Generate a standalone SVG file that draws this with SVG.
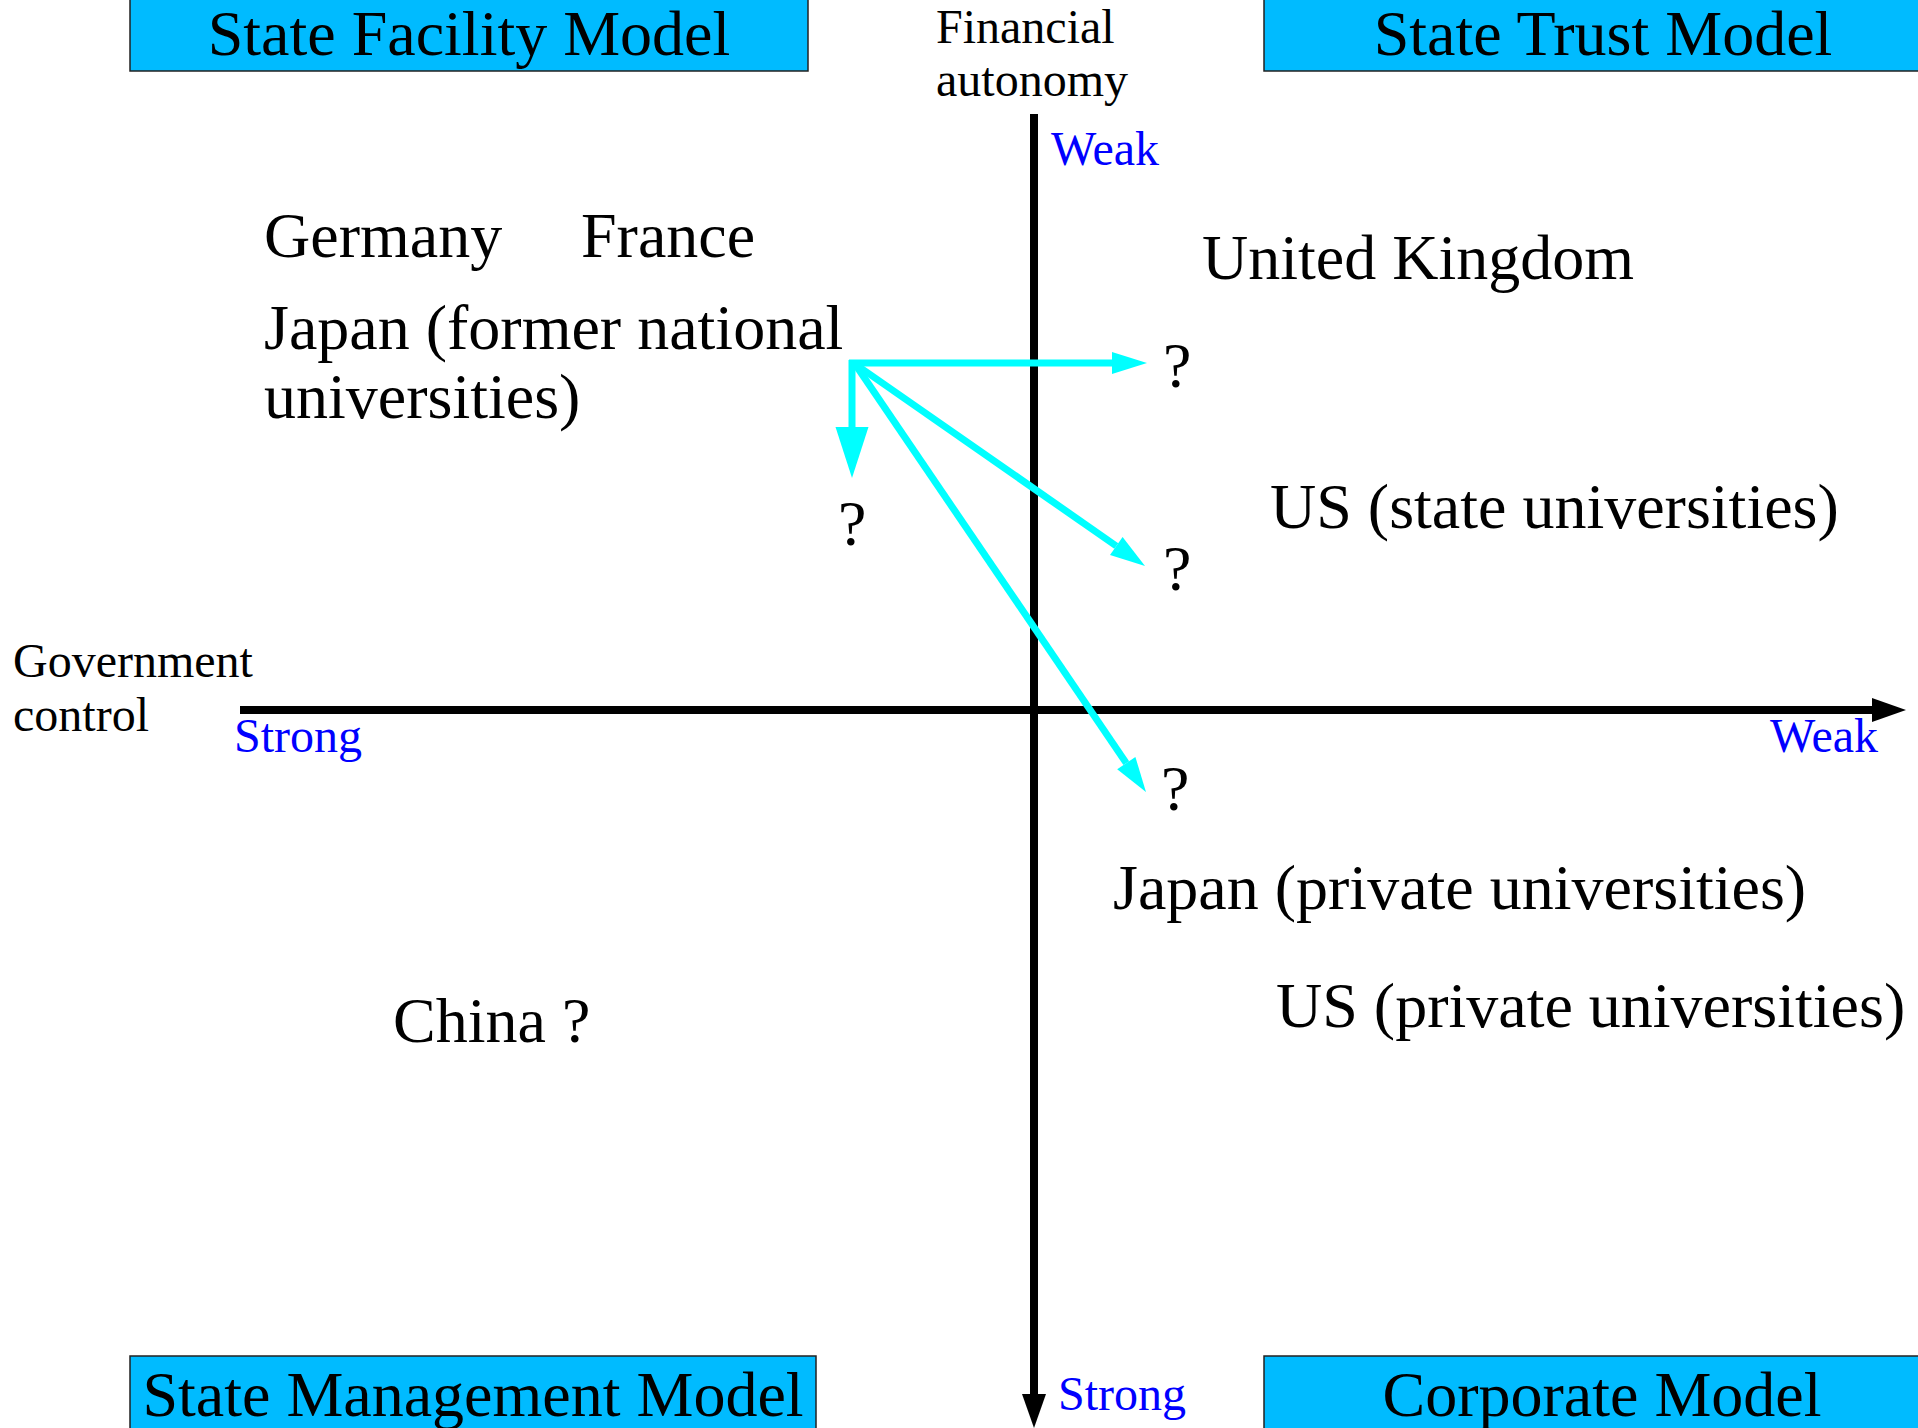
<svg xmlns="http://www.w3.org/2000/svg" width="1918" height="1428" viewBox="0 0 1918 1428">
<style>
  text { font-family: "Liberation Serif", "Times New Roman", serif; }
  .box { fill: #00BBFF; stroke: #222; stroke-width: 1.5; }
  .title { font-size: 64px; fill: #000; }
  .axis-name { font-size: 48px; fill: #000; }
  .scale { font-size: 48px; fill: #0000FF; }
  .country { font-size: 64px; fill: #000; }
  .q { font-size: 64px; fill: #000; }
  .axis { stroke: #000; stroke-width: 8; fill: none; }
  .cy { stroke: #00FFFF; stroke-width: 7; fill: none; }
</style>
<defs>
  <marker id="cyanHead" markerUnits="userSpaceOnUse" markerWidth="35" markerHeight="22" refX="0" refY="11" orient="auto" overflow="visible">
    <path d="M0,0 L35,11 L0,22 Z" fill="#00FFFF"/>
  </marker>
  <marker id="cyanHeadBig" markerUnits="userSpaceOnUse" markerWidth="51" markerHeight="33" refX="0" refY="16.5" orient="auto" overflow="visible">
    <path d="M0,0 L51,16.5 L0,33 Z" fill="#00FFFF"/>
  </marker>
  <marker id="blackHead" markerUnits="userSpaceOnUse" markerWidth="34" markerHeight="24" refX="0" refY="12" orient="auto" overflow="visible">
    <path d="M0,0 L34,12 L0,24 Z" fill="#000"/>
  </marker>
</defs>
<rect width="1918" height="1428" fill="#FFFFFF"/>

<g id="model-state-facility">
  <rect class="box" x="130" y="-2" width="678" height="73"/>
  <text class="title" x="469" y="55" text-anchor="middle">State Facility Model</text>
</g>
<g id="model-state-trust">
  <rect class="box" x="1264" y="-2" width="660" height="73"/>
  <text class="title" x="1603" y="55" text-anchor="middle">State Trust Model</text>
</g>
<g id="model-state-management">
  <rect class="box" x="130" y="1356" width="686" height="80"/>
  <text class="title" x="473" y="1416" text-anchor="middle">State Management Model</text>
</g>
<g id="model-corporate">
  <rect class="box" x="1264" y="1356" width="660" height="80"/>
  <text class="title" x="1602" y="1416" text-anchor="middle">Corporate Model</text>
</g>

<g id="axes">
  <line class="axis" x1="240" y1="710" x2="1872" y2="710" marker-end="url(#blackHead)"/>
  <line class="axis" x1="1034" y1="114" x2="1034" y2="1394" marker-end="url(#blackHead)"/>
</g>

<g id="axis-labels">
  <text class="axis-name" x="936" y="43">Financial</text>
  <text class="axis-name" x="936" y="96">autonomy</text>
  <text class="axis-name" x="13" y="677">Government</text>
  <text class="axis-name" x="13" y="731">control</text>
  <text class="scale" x="1051" y="165">Weak</text>
  <text class="scale" x="1058" y="1410">Strong</text>
  <text class="scale" x="234" y="752">Strong</text>
  <text class="scale" x="1770" y="752">Weak</text>
</g>

<g id="node-germany"><text class="country" x="264" y="257">Germany</text></g>
<g id="node-france"><text class="country" x="581" y="257">France</text></g>
<g id="node-japan-national">
  <text class="country" x="264" y="349">Japan (former national</text>
  <text class="country" x="264" y="418">universities)</text>
</g>
<g id="node-uk"><text class="country" x="1202" y="279">United Kingdom</text></g>
<g id="node-us-state"><text class="country" x="1270" y="528">US (state universities)</text></g>
<g id="node-japan-private"><text class="country" x="1113" y="909">Japan (private universities)</text></g>
<g id="node-us-private"><text class="country" x="1276" y="1027">US (private universities)</text></g>
<g id="node-china"><text class="country" x="393" y="1042">China ?</text></g>

<g id="node-q1"><text class="q" x="1163" y="387">?</text></g>
<g id="node-q2"><text class="q" x="1163" y="590">?</text></g>
<g id="node-q3"><text class="q" x="838" y="545">?</text></g>
<g id="node-q4"><text class="q" x="1161" y="810">?</text></g>

<g id="connectors">
  <line class="cy" x1="849" y1="363" x2="1112" y2="363" marker-end="url(#cyanHead)"/>
  <line class="cy" x1="852" y1="360" x2="852" y2="427" marker-end="url(#cyanHeadBig)"/>
  <line class="cy" x1="855" y1="364" x2="1116.3" y2="546" marker-end="url(#cyanHead)"/>
  <line class="cy" x1="855" y1="364" x2="1126.3" y2="763.1" marker-end="url(#cyanHead)"/>
</g>
</svg>
